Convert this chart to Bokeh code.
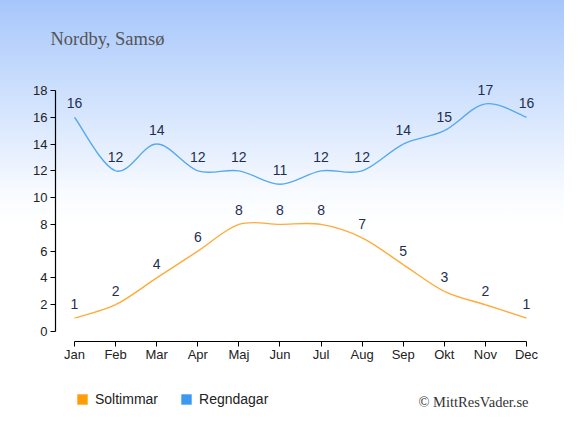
import numpy as np
from bokeh.plotting import figure
from bokeh.models import Range1d, FixedTicker, Label, Legend, LegendItem, ColumnDataSource
from bokeh.core.properties import value
from bokeh.embed import file_html
from bokeh.resources import INLINE

months = ["Jan", "Feb", "Mar", "Apr", "Maj", "Jun", "Jul", "Aug", "Sep", "Okt", "Nov", "Dec"]
soltimmar = [1, 2, 4, 6, 8, 8, 8, 7, 5, 3, 2, 1]
regndagar = [16, 12, 14, 12, 12, 11, 12, 12, 14, 15, 17, 16]
y_ticks = [0, 2, 4, 6, 8, 10, 12, 14, 16, 18]
title_text = "Nordby, Samsø"
credit_text = "© MittResVader.se"
series_names = ["Soltimmar", "Regndagar"]

ORANGE_LINE = "#ffab3a"
BLUE_LINE = "#56a9f0"
ORANGE = "#ff9c0a"
BLUE = "#3a9af0"
LABEL_COLOR = "#1e2f4f"
SANS = "Liberation Sans"
SERIF = "Liberation Serif"

W, H = 564, 419

p = figure(width=W, height=H, output_backend="svg", toolbar_location=None,
           x_range=Range1d(-1.801, 11.925), y_range=Range1d(-6.572, 24.722),
           min_border_left=0, min_border_right=0, min_border_top=0, min_border_bottom=0)
p.background_fill_alpha = 0
p.border_fill_alpha = 0
p.outline_line_color = None
p.styles = {"background": "linear-gradient(to bottom, #a6c6fb 0%, #cadefd 20%, #e6effe 36%, #f8fbff 46%, #ffffff 54%, #ffffff 100%)"}
p.xgrid.visible = False
p.ygrid.visible = False

xs = list(range(len(months)))


def spline_segments(vals, k=1/6):
    n = len(vals)
    d = dict(x0=[], y0=[], x1=[], y1=[], cx0=[], cy0=[], cx1=[], cy1=[])
    for i in range(n - 1):
        a = max(i - 1, 0)
        b = min(i + 2, n - 1)
        d["x0"].append(xs[i]); d["y0"].append(vals[i])
        d["x1"].append(xs[i + 1]); d["y1"].append(vals[i + 1])
        d["cx0"].append(xs[i] + (xs[i + 1] - xs[a]) * k)
        d["cy0"].append(vals[i] + (vals[i + 1] - vals[a]) * k)
        d["cx1"].append(xs[i + 1] - (xs[b] - xs[i]) * k)
        d["cy1"].append(vals[i + 1] - (vals[b] - vals[i]) * k)
    return ColumnDataSource(d)


legend_renderers = []
for vals, col, sq in [(soltimmar, ORANGE_LINE, ORANGE), (regndagar, BLUE_LINE, BLUE)]:
    p.bezier(x0="x0", y0="y0", x1="x1", y1="y1", cx0="cx0", cy0="cy0", cx1="cx1", cy1="cy1",
             source=spline_segments(vals), line_color=col, line_width=1.4)
    src = ColumnDataSource(dict(x=xs, y=vals, t=[str(v) for v in vals]))
    p.text(x="x", y="y", text="t", source=src, text_align="center", text_baseline="alphabetic",
           y_offset=-14, text_font=value(SANS), text_font_size="14px", text_color=LABEL_COLOR)
    # invisible points (size 0) whose legend entry is a filled square
    legend_renderers.append(p.scatter(x="x", y="y", source=src, marker="square", size=0,
                                      fill_color=sq, line_color=None))

# axes, drawn inside the frame at fixed positions
xa = p.xaxis[0]
xa.ticker = FixedTicker(ticks=xs)
xa.major_label_overrides = {i: m for i, m in enumerate(months)}
xa.bounds = (xs[0], xs[-1])
xa.fixed_location = -0.747
ya = p.yaxis[0]
ya.ticker = FixedTicker(ticks=y_ticks)
ya.bounds = (y_ticks[0], y_ticks[-1])
ya.fixed_location = -0.4624
for ax in (xa, ya):
    ax.axis_line_color = "#000000"
    ax.axis_line_width = 1.2
    ax.major_tick_line_color = "#000000"
    ax.major_tick_out = 5
    ax.major_tick_in = 0
    ax.minor_tick_line_color = None
    ax.major_label_text_font = SANS
    ax.major_label_text_font_size = "13px"
    ax.major_label_text_color = "#222222"
xa.major_label_standoff = 0
ya.major_label_standoff = 3

legend = Legend(items=[LegendItem(label=series_names[0], renderers=[legend_renderers[0]]),
                       LegendItem(label=series_names[1], renderers=[legend_renderers[1]])],
                orientation="horizontal", location=(69, 7), padding=0, margin=0,
                spacing=15, glyph_width=26, glyph_height=26, label_standoff=0,
                label_text_font=SANS, label_text_font_size="14px", label_text_color="#222222",
                border_line_alpha=0, background_fill_alpha=0)
p.add_layout(legend, "center")

p.add_layout(Label(x=-0.584, y=21.85, text=title_text, text_align="left", text_baseline="alphabetic",
                   text_font=SERIF, text_font_size="18.5px", text_color="#555555"))
p.add_layout(Label(x=11.05, y=-5.30, text=credit_text, text_align="right", text_baseline="alphabetic",
                   text_font=SERIF, text_font_size="14.5px", text_color="#333333"))

open("out.html", "w").write(file_html(p, INLINE))
